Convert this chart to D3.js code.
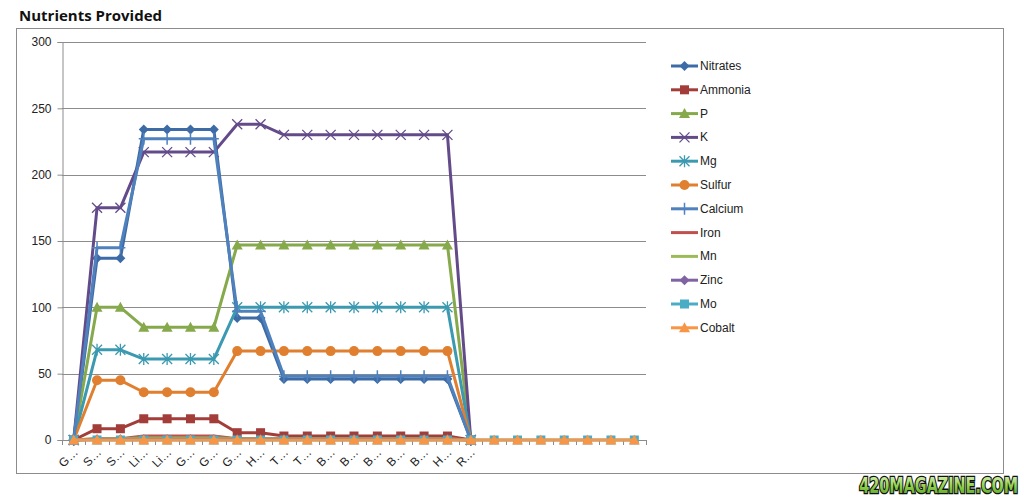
<!DOCTYPE html>
<html><head><meta charset="utf-8">
<script src="https://cdn.jsdelivr.net/npm/d3@7"></script>
<style>body{margin:0;background:#fff;} svg{display:block;}</style>
</head><body>
<svg id="c" width="1024" height="499"></svg>
<script>
const categories = ["G…","S…","S…","Li…","Li…","G…","G…","G…","H…","T…","T…","B…","B…","B…","B…","B…","H…","R…","","","","","","",""];
const yTicks = [0,50,100,150,200,250,300];
const nitrates = [0,137,137,234,234,234,234,92,92,46,46,46,46,46,46,46,46,0];
const ammonia  = [0,8.5,8.5,16,16,16,16,5.5,5.5,3,3,3,3,3,3,3,3,0];
const pVals    = [0,100,100,85,85,85,85,147,147,147,147,147,147,147,147,147,147,0];
const kVals    = [0,175,175,217,217,217,217,238,238,230,230,230,230,230,230,230,230,0];
const mg       = [0,68,68,61,61,61,61,100,100,100,100,100,100,100,100,100,100,0];
const sulfur   = [0,45,45,36,36,36,36,67,67,67,67,67,67,67,67,67,67,0];
const calcium  = [0,145,145,227,227,227,227,97,97,48,48,48,48,48,48,48,48,0];
const iron     = [0,1,1,3,3,3,3,1,1,1,1,1,1,1,1,1,1,0];
const mn       = [0,1,1,1.5,1.5,1.5,1.5,1,1,1,1,1,1,1,1,1,1,0];
const zinc     = [0,0.5,0.5,0.5,0.5,0.5,0.5,0.5,0.5,0.5,0.5,0.5,0.5,0.5,0.5,0.5,0.5,0];
const mo       = [0,0,0,0,0,0,0,0,0,0,0,0,0,0,0,0,0,0,0,0,0,0,0,0,0];
const cobalt   = [0,0,0,0,0,0,0,0,0,0,0,0,0,0,0,0,0,0,0,0,0,0,0,0,0];
const seriesNames = ["Nitrates","Ammonia","P","K","Mg","Sulfur","Calcium","Iron","Mn","Zinc","Mo","Cobalt"];
const seriesValues = [nitrates,ammonia,pVals,kVals,mg,sulfur,calcium,iron,mn,zinc,mo,cobalt];
const seriesColors = ["#3d6ba6","#a23d3a","#85a94b","#634b8a","#3b99b0","#e07f2f","#4f81bd","#c0504d","#9bbb59","#8064a2","#4bacc6","#f79646"];
const seriesMarkers = ["diamond","square","triangle","x","star","circle","plus","none","none","diamond","square","triangle"];

const svg = d3.select("#c");
svg.append("text").attr("x",19).attr("y",21).text("Nutrients Provided")
  .attr("font-family","Open Sans, sans-serif").attr("font-weight","bold").attr("font-size",15).attr("fill","#111");
svg.append("rect").attr("x",16.5).attr("y",28.5).attr("width",987).attr("height",445)
  .attr("fill","none").attr("stroke","#8c8c8c").attr("stroke-width",1);

const x = d3.scaleBand().domain(d3.range(categories.length)).range([62,646]).padding(0);
const y = d3.scaleLinear().domain([0,300]).range([440,42]);
const cx = i => x(i) + x.bandwidth()/2;

// gridlines
svg.append("g").selectAll("line").data(yTicks.filter(d=>d>0)).join("line")
  .attr("x1",62).attr("x2",646).attr("y1",d=>Math.round(y(d))+0.5).attr("y2",d=>Math.round(y(d))+0.5)
  .attr("stroke","#8c8c8c").attr("stroke-width",1);

// y axis
const yAxis = d3.axisLeft(y).tickValues(yTicks).tickSize(5).tickPadding(6);
const gy = svg.append("g").attr("transform","translate(62.5,0)").call(yAxis);
gy.select(".domain").attr("stroke","#8c8c8c");
gy.selectAll(".tick line").attr("stroke","#8c8c8c");
gy.selectAll("text").attr("font-family","Liberation Sans, sans-serif").attr("font-size",12).attr("fill","#222");

// x axis
const gx = svg.append("g");
gx.append("line").attr("x1",62).attr("x2",646).attr("y1",440.5).attr("y2",440.5).attr("stroke","#8c8c8c");
gx.selectAll("line.t").data(d3.range(categories.length+1)).join("line").attr("class","t")
  .attr("x1",i=>Math.round(i<categories.length?x(i):x(i-1)+x.bandwidth())+0.5)
  .attr("x2",i=>Math.round(i<categories.length?x(i):x(i-1)+x.bandwidth())+0.5)
  .attr("y1",440).attr("y2",445).attr("stroke","#8c8c8c");
gx.selectAll("text").data(categories.map((c,i)=>({c,i})).filter(d=>d.c)).join("text")
  .attr("transform",d=>`translate(${cx(d.i)+5},${453}) rotate(-45)`)
  .attr("text-anchor","end").attr("font-family","Liberation Sans, sans-serif").attr("font-size",12).attr("fill","#222")
  .text(d=>d.c);

function drawMarker(g, type, color, px, py){
  if(type==="none") return;
  if(type==="diamond") g.append("path").attr("d",`M${px},${py-5}L${px+5},${py}L${px},${py+5}L${px-5},${py}Z`).attr("fill",color);
  else if(type==="square") g.append("rect").attr("x",px-4.5).attr("y",py-4.5).attr("width",9).attr("height",9).attr("fill",color);
  else if(type==="triangle") g.append("path").attr("d",`M${px},${py-5.5}L${px+5.5},${py+4.5}L${px-5.5},${py+4.5}Z`).attr("fill",color);
  else if(type==="circle") g.append("circle").attr("cx",px).attr("cy",py).attr("r",5).attr("fill",color);
  else if(type==="x") g.append("path").attr("d",`M${px-5},${py-5}L${px+5},${py+5}M${px-5},${py+5}L${px+5},${py-5}`).attr("stroke",color).attr("stroke-width",1.3);
  else if(type==="star") g.append("path").attr("d",`M${px-5},${py-5}L${px+5},${py+5}M${px-5},${py+5}L${px+5},${py-5}M${px},${py-6}L${px},${py+6}`).attr("stroke",color).attr("stroke-width",1.3);
  else if(type==="plus") g.append("path").attr("d",`M${px},${py-6}L${px},${py+6}M${px-5},${py}L${px+5},${py}`).attr("stroke",color).attr("stroke-width",1.5);
}

const line = d3.line().x((d,i)=>cx(i)).y(d=>y(d));
seriesValues.forEach((vals,k)=>{
  const g = svg.append("g");
  g.append("path").datum(vals).attr("d",line).attr("fill","none")
    .attr("stroke",seriesColors[k]).attr("stroke-width",3).attr("stroke-linejoin","round");
  vals.forEach((v,i)=>drawMarker(g, seriesMarkers[k], seriesColors[k], cx(i), y(v)));
});

// legend
const lg = svg.append("g");
seriesNames.forEach((n,k)=>{
  const ly = 66 + k*23.8;
  lg.append("line").attr("x1",671).attr("x2",698).attr("y1",ly).attr("y2",ly)
    .attr("stroke",seriesColors[k]).attr("stroke-width",3);
  drawMarker(lg, seriesMarkers[k], seriesColors[k], 684.5, ly);
  lg.append("text").attr("x",700).attr("y",ly+4).text(n)
    .attr("font-family","Liberation Sans, sans-serif").attr("font-size",12).attr("fill","#222");
});

// watermark
const defs = svg.append("defs");
const gr = defs.append("linearGradient").attr("id","wm").attr("x1",0).attr("y1",0).attr("x2",0).attr("y2",1);
gr.append("stop").attr("offset","0%").attr("stop-color","#e8f7c8");
gr.append("stop").attr("offset","55%").attr("stop-color","#8fd14a");
gr.append("stop").attr("offset","100%").attr("stop-color","#4e9a1e");
svg.append("g").attr("transform","translate(1018,493) scale(1,1.35)")
  .append("text").attr("x",0).attr("y",0).attr("text-anchor","end").text("420MAGAZINE.COM")
  .attr("font-family","DejaVu Sans Condensed, sans-serif").attr("font-weight","bold").attr("font-size",16)
  .attr("fill","url(#wm)").attr("stroke","#111").attr("stroke-width",2).attr("paint-order","stroke");
</script>
</body></html>
